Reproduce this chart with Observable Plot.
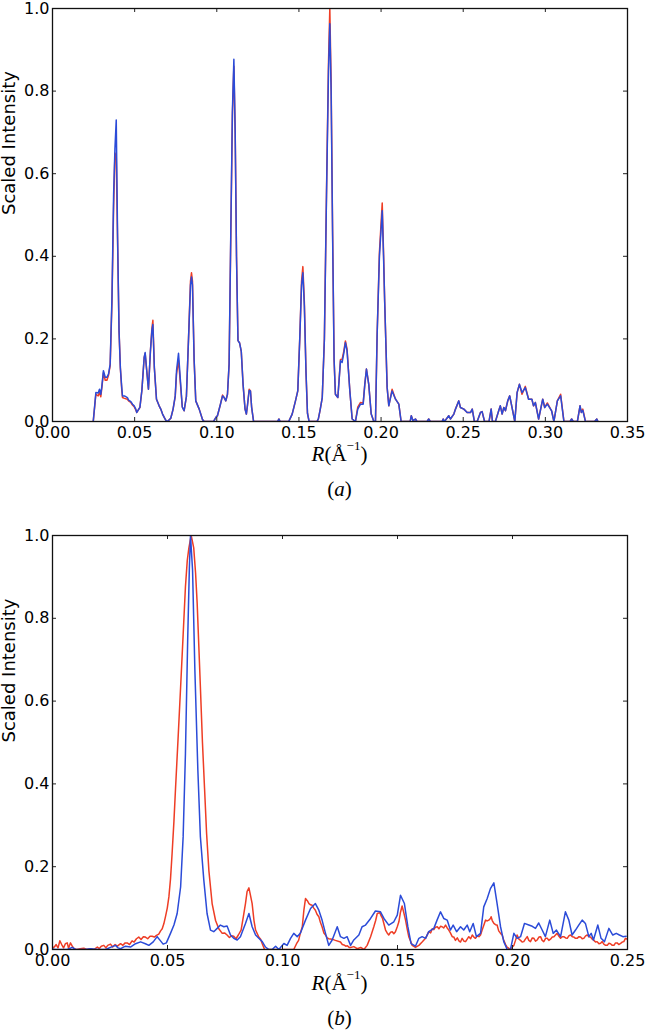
<!DOCTYPE html>
<html><head><meta charset="utf-8">
<script src="https://cdn.jsdelivr.net/npm/d3@7"></script>
<script src="https://cdn.jsdelivr.net/npm/@observablehq/plot@0.6"></script>
<style>
body{margin:0;background:#fff;width:646px;height:1033px;position:relative;overflow:hidden;font-family:"DejaVu Sans",sans-serif}
.panel{position:absolute;left:0}
.xlab{position:absolute;left:52px;width:575px;text-align:center;font-family:"Liberation Serif","DejaVu Serif",serif;font-size:21px;color:#000;line-height:24px}
.xlab i{font-style:italic}
.xlab sup{font-size:13px;position:relative;top:-3px;line-height:0}
</style></head><body>
<div id="pa" class="panel" style="top:0"></div>
<div class="xlab" style="top:442px"><i>R</i>(Å<sup>−1</sup>)</div>
<div class="xlab" style="top:477px">(<i>a</i>)</div>
<div id="pb" class="panel" style="top:527px"></div>
<div class="xlab" style="top:971px"><i>R</i>(Å<sup>−1</sup>)</div>
<div class="xlab" style="top:1006px">(<i>b</i>)</div>
<script>
// ---------- Panel (a) ----------
const aXTicks = [0, 0.05, 0.10, 0.15, 0.20, 0.25, 0.30, 0.35];
const bXTicks = [0, 0.05, 0.10, 0.15, 0.20, 0.25];
const yTicks = [0, 0.2, 0.4, 0.6, 0.8, 1.0];

const aX = [
0.0248,0.0264,0.0278,0.0286,0.0294,0.0300,0.0310,0.0321,0.0331,0.0341,
0.0351,0.0362,0.0372,0.0380,0.0388,0.0396,0.0405,0.0413,0.0421,0.0426,
0.0438,0.0456,0.0463,0.0477,0.0487,0.0497,0.0507,0.0513,0.0532,0.0544,
0.0558,0.0564,0.0572,0.0584,0.0596,0.0605,0.0611,0.0620,0.0633,0.0649,
0.0659,0.0670,0.0680,0.0690,0.0700,0.0720,0.0734,0.0747,0.0755,0.0767,
0.0775,0.0790,0.0801,0.0815,0.0828,0.0840,0.0846,0.0852,0.0862,0.0872,
0.0893,0.0913,0.0923,0.0980,0.0995,0.1004,0.1020,0.1035,0.1045,0.1055,
0.1065,0.1075,0.1085,0.1095,0.1104,0.1112,0.1120,0.1129,0.1139,0.1149,
0.1160,0.1172,0.1180,0.1187,0.1197,0.1205,0.1212,0.1224,0.1370,0.1378,
0.1386,0.1438,0.1459,0.1479,0.1493,0.1505,0.1516,0.1524,0.1533,0.1543,
0.1552,0.1562,0.1610,0.1618,0.1630,0.1642,0.1655,0.1668,0.1680,0.1688,
0.1696,0.1705,0.1714,0.1722,0.1737,0.1753,0.1763,0.1773,0.1783,0.1793,
0.1810,0.1824,0.1844,0.1858,0.1875,0.1891,0.1901,0.1911,0.1925,0.1940,
0.1956,0.1966,0.1976,0.1990,0.2007,0.2015,0.2022,0.2037,0.2047,0.2067,
0.2088,0.2108,0.2122,0.2177,0.2184,0.2194,0.2209,0.2219,0.2280,0.2290,
0.2300,0.2372,0.2378,0.2386,0.2412,0.2422,0.2443,0.2453,0.2473,0.2483,
0.2504,0.2524,0.2545,0.2555,0.2568,0.2585,0.2605,0.2615,0.2630,0.2657,
0.2670,0.2678,0.2696,0.2716,0.2726,0.2737,0.2747,0.2757,0.2771,0.2783,
0.2797,0.2814,0.2828,0.2842,0.2858,0.2878,0.2898,0.2918,0.2928,0.2939,
0.2959,0.2984,0.2996,0.3012,0.3032,0.3038,0.3052,0.3073,0.3093,0.3113,
0.3150,0.3160,0.3170,0.3195,0.3211,0.3219,0.3228,0.3244,0.3300,0.3313,
0.3320];

const aBlue = [
0,0.070,0.069,0.078,0.066,0.084,0.123,0.107,0.107,0.115,
0.139,0.30,0.55,0.66,0.73,0.45,0.22,0.13,0.085,0.062,
0.062,0.058,0.052,0.048,0.042,0.038,0.030,0.022,0.034,0.075,
0.155,0.167,0.130,0.078,0.170,0.220,0.235,0.130,0.054,0.038,
0.030,0.018,0.010,0.003,0,0.008,0.030,0.062,0.123,0.165,
0.120,0.035,0.026,0.060,0.200,0.330,0.350,0.330,0.150,0.050,
0.030,0.005,0,0,0.010,0.014,0.038,0.062,0.058,0.050,
0.066,0.139,0.450,0.750,0.877,0.700,0.400,0.196,0.190,0.170,
0.090,0.030,0.018,0.040,0.075,0.074,0.035,0,0,0.006,
0,0,0.018,0.050,0.074,0.200,0.330,0.360,0.280,0.120,
0.020,0,0,0.006,0.030,0.058,0.200,0.550,0.850,0.963,
0.800,0.450,0.150,0.066,0.058,0.147,0.143,0.165,0.191,0.171,
0.074,0.006,0,0.030,0.042,0.042,0.090,0.127,0.090,0.018,
0,0,0.210,0.400,0.510,0.400,0.290,0.082,0.038,0.074,
0.054,0.042,0,0,0.014,0.002,0.006,0,0,0.006,
0,0,0.006,0,0.014,0.006,0.018,0.030,0.050,0.034,
0.030,0.022,0.022,0.030,0,0,0.022,0.024,0,0,
0.030,0,0,0.026,0.038,0.018,0.034,0.026,0.050,0.062,
0.034,0,0.070,0.090,0.070,0.082,0.054,0.054,0.038,0.046,
0.006,0.054,0.034,0.042,0.030,0.026,0,0.050,0.062,0,
0,0.006,0,0,0.038,0.022,0.027,0,0,0.006,
0];

const aRed = [
0,0.066,0.062,0.070,0.060,0.080,0.118,0.100,0.100,0.112,
0.135,0.29,0.52,0.65,0.64,0.44,0.22,0.13,0.080,0.058,
0.056,0.054,0.050,0.046,0.040,0.036,0.028,0.022,0.034,0.075,
0.155,0.165,0.130,0.078,0.170,0.225,0.245,0.130,0.054,0.038,
0.030,0.018,0.010,0.003,0,0.008,0.030,0.060,0.115,0.148,
0.110,0.035,0.026,0.060,0.200,0.340,0.360,0.340,0.150,0.050,
0.030,0.005,0,0,0.010,0.014,0.038,0.064,0.058,0.050,
0.066,0.139,0.440,0.740,0.860,0.700,0.400,0.196,0.190,0.170,
0.090,0.030,0.018,0.040,0.078,0.074,0.035,0,0,0.006,
0,0,0.018,0.050,0.074,0.200,0.340,0.375,0.290,0.120,
0.020,0,0,0.006,0.030,0.058,0.200,0.560,0.870,1.000,
0.820,0.460,0.150,0.066,0.058,0.150,0.151,0.170,0.195,0.175,
0.074,0.006,0,0.035,0.046,0.044,0.090,0.127,0.090,0.018,
0,0,0.210,0.410,0.529,0.410,0.290,0.082,0.038,0.078,
0.054,0.042,0,0,0.014,0.002,0.006,0,0,0.006,
0,0,0.006,0,0.014,0.006,0.018,0.030,0.050,0.034,
0.030,0.022,0.022,0.030,0,0,0.022,0.024,0,0,
0.030,0,0,0.026,0.038,0.018,0.034,0.026,0.050,0.062,
0.034,0,0.070,0.090,0.066,0.085,0.054,0.054,0.038,0.046,
0.006,0.054,0.034,0.045,0.030,0.026,0,0.050,0.066,0,
0,0.006,0,0,0.038,0.022,0.030,0,0,0.006,
0];

// ---------- Panel (b) ---------- [R, intensity]
const bRed = [
[0.0000,0.005],[0.0008,0.006],[0.0016,0.012],[0.0024,0.004],[0.0032,0.021],[0.0040,0.012],[0.0048,0.004],[0.0056,0.014],
[0.0064,0.016],[0.0070,0.003],[0.0078,0.016],[0.0086,0.008],[0.0094,0.002],[0.0105,0.000],[0.0120,0.002],[0.0136,0.003],
[0.0150,0.000],[0.0165,0.002],[0.0180,0.000],[0.0195,0.006],[0.0203,0.002],[0.0212,0.008],[0.0223,0.010],[0.0232,0.004],
[0.0240,0.010],[0.0252,0.013],[0.0262,0.006],[0.0272,0.012],[0.0282,0.008],[0.0296,0.014],[0.0306,0.010],[0.0316,0.016],
[0.0325,0.016],[0.0335,0.012],[0.0346,0.021],[0.0355,0.018],[0.0365,0.026],[0.0375,0.030],[0.0385,0.024],[0.0395,0.031],
[0.0404,0.030],[0.0414,0.026],[0.0424,0.032],[0.0433,0.032],[0.0443,0.030],[0.0452,0.034],[0.0462,0.037],[0.0470,0.045],
[0.0477,0.050],[0.0484,0.062],[0.0491,0.079],[0.0499,0.100],[0.0506,0.127],[0.0513,0.170],[0.0520,0.232],[0.0528,0.310],
[0.0535,0.390],[0.0546,0.510],[0.0557,0.634],[0.0568,0.760],[0.0578,0.876],[0.0586,0.940],[0.0593,0.970],[0.0603,1.000],
[0.0614,0.970],[0.0622,0.910],[0.0629,0.836],[0.0643,0.634],[0.0652,0.500],[0.0661,0.390],[0.0670,0.280],[0.0680,0.190],
[0.0694,0.111],[0.0709,0.070],[0.0723,0.050],[0.0738,0.039],[0.0748,0.040],[0.0759,0.035],[0.0769,0.029],[0.0779,0.033],
[0.0788,0.032],[0.0798,0.026],[0.0808,0.035],[0.0820,0.047],[0.0830,0.080],[0.0839,0.111],[0.0846,0.140],[0.0854,0.149],
[0.0861,0.130],[0.0868,0.111],[0.0876,0.070],[0.0883,0.047],[0.0897,0.030],[0.0905,0.025],[0.0912,0.014],[0.0922,0.000],
[0.1049,0.000],[0.1061,0.014],[0.1070,0.022],[0.1078,0.040],[0.1086,0.055],[0.1093,0.095],[0.1100,0.123],[0.1108,0.118],
[0.1115,0.111],[0.1122,0.108],[0.1129,0.107],[0.1136,0.100],[0.1143,0.095],[0.1150,0.085],[0.1158,0.079],[0.1165,0.065],
[0.1172,0.055],[0.1180,0.040],[0.1187,0.035],[0.1194,0.028],[0.1201,0.026],[0.1215,0.025],[0.1230,0.022],[0.1252,0.018],
[0.1260,0.012],[0.1267,0.011],[0.1275,0.008],[0.1282,0.009],[0.1290,0.005],[0.1296,0.005],[0.1310,0.007],[0.1325,0.002],
[0.1340,0.005],[0.1354,0.000],[0.1368,0.010],[0.1383,0.031],[0.1397,0.055],[0.1405,0.070],[0.1412,0.087],[0.1423,0.089],
[0.1430,0.080],[0.1435,0.075],[0.1448,0.047],[0.1455,0.040],[0.1462,0.035],[0.1470,0.042],[0.1477,0.043],[0.1484,0.038],
[0.1491,0.043],[0.1499,0.055],[0.1506,0.067],[0.1513,0.090],[0.1520,0.105],[0.1527,0.090],[0.1535,0.071],[0.1542,0.050],
[0.1549,0.031],[0.1557,0.020],[0.1564,0.010],[0.1578,0.005],[0.1593,0.010],[0.1607,0.018],[0.1622,0.027],[0.1636,0.043],
[0.1644,0.040],[0.1651,0.050],[0.1658,0.048],[0.1665,0.054],[0.1673,0.055],[0.1680,0.050],[0.1687,0.056],[0.1694,0.055],
[0.1701,0.052],[0.1709,0.059],[0.1716,0.052],[0.1723,0.047],[0.1730,0.040],[0.1738,0.031],[0.1745,0.030],[0.1752,0.022],
[0.1760,0.028],[0.1767,0.021],[0.1774,0.018],[0.1781,0.027],[0.1789,0.020],[0.1796,0.019],[0.1803,0.025],[0.1810,0.031],
[0.1818,0.026],[0.1825,0.035],[0.1832,0.030],[0.1839,0.027],[0.1847,0.033],[0.1854,0.031],[0.1861,0.035],[0.1868,0.047],
[0.1876,0.060],[0.1883,0.071],[0.1890,0.069],[0.1897,0.071],[0.1904,0.075],[0.1907,0.079],[0.1912,0.070],[0.1919,0.063],
[0.1926,0.060],[0.1933,0.059],[0.1940,0.045],[0.1948,0.039],[0.1955,0.035],[0.1962,0.022],[0.1970,0.012],[0.1977,0.005],
[0.1984,0.003],[0.1991,0.000],[0.1999,0.006],[0.2006,0.010],[0.2013,0.022],[0.2020,0.035],[0.2028,0.025],[0.2035,0.022],
[0.2042,0.018],[0.2049,0.019],[0.2056,0.025],[0.2064,0.031],[0.2071,0.022],[0.2078,0.019],[0.2086,0.028],[0.2093,0.027],
[0.2100,0.020],[0.2107,0.023],[0.2115,0.030],[0.2122,0.031],[0.2129,0.022],[0.2136,0.019],[0.2144,0.027],[0.2151,0.027],
[0.2158,0.022],[0.2165,0.025],[0.2173,0.030],[0.2180,0.031],[0.2187,0.035],[0.2194,0.039],[0.2202,0.032],[0.2209,0.027],
[0.2216,0.031],[0.2223,0.031],[0.2231,0.028],[0.2238,0.027],[0.2245,0.033],[0.2252,0.035],[0.2260,0.031],[0.2267,0.030],
[0.2274,0.027],[0.2281,0.027],[0.2289,0.031],[0.2296,0.030],[0.2303,0.026],[0.2310,0.027],[0.2318,0.033],[0.2325,0.035],
[0.2332,0.031],[0.2339,0.030],[0.2347,0.025],[0.2354,0.022],[0.2361,0.018],[0.2368,0.019],[0.2376,0.014],[0.2383,0.015],
[0.2390,0.019],[0.2397,0.013],[0.2405,0.010],[0.2412,0.010],[0.2419,0.015],[0.2426,0.014],[0.2434,0.010],[0.2441,0.010],
[0.2448,0.016],[0.2455,0.016],[0.2462,0.012],[0.2470,0.015],[0.2477,0.018],[0.2484,0.019],[0.2491,0.027],[0.2498,0.025]];

const bBlue = [
[0.0000,0.002],[0.0010,0.000],[0.0064,0.000],[0.0086,0.005],[0.0100,0.000],[0.0140,0.000],[0.0165,0.002],[0.0200,0.000],
[0.0230,0.000],[0.0252,0.005],[0.0274,0.010],[0.0285,0.004],[0.0296,0.002],[0.0317,0.008],[0.0339,0.006],[0.0361,0.014],
[0.0383,0.0185],[0.0404,0.014],[0.0419,0.010],[0.0438,0.0185],[0.0455,0.031],[0.0468,0.022],[0.0481,0.013],[0.0495,0.016],
[0.0513,0.039],[0.0528,0.059],[0.0542,0.087],[0.0557,0.151],[0.0568,0.272],[0.0578,0.473],[0.0588,0.755],[0.0595,0.920],
[0.0600,1.000],[0.0609,0.916],[0.0619,0.675],[0.0632,0.433],[0.0643,0.272],[0.0658,0.167],[0.0672,0.087],[0.0687,0.047],
[0.0701,0.043],[0.0716,0.051],[0.0730,0.059],[0.0745,0.055],[0.0759,0.057],[0.0774,0.035],[0.0788,0.027],[0.0803,0.023],
[0.0817,0.031],[0.0839,0.063],[0.0854,0.087],[0.0868,0.055],[0.0883,0.035],[0.0897,0.027],[0.0912,0.019],[0.0926,0.006],
[0.0941,0.000],[0.0955,0.000],[0.0970,0.008],[0.0984,0.000],[0.1006,0.0145],[0.1020,0.010],[0.1035,0.027],[0.1049,0.039],
[0.1064,0.031],[0.1078,0.040],[0.1100,0.071],[0.1122,0.099],[0.1143,0.111],[0.1158,0.095],[0.1172,0.071],[0.1187,0.039],
[0.1201,0.010],[0.1216,0.023],[0.1238,0.055],[0.1252,0.031],[0.1267,0.027],[0.1281,0.031],[0.1296,0.010],[0.1310,0.023],
[0.1332,0.035],[0.1346,0.055],[0.1361,0.059],[0.1383,0.075],[0.1404,0.093],[0.1426,0.091],[0.1441,0.075],[0.1462,0.059],
[0.1484,0.067],[0.1499,0.083],[0.1513,0.131],[0.1530,0.111],[0.1545,0.055],[0.1559,0.014],[0.1578,0.008],[0.1593,0.027],
[0.1607,0.031],[0.1622,0.027],[0.1636,0.043],[0.1658,0.051],[0.1672,0.071],[0.1687,0.091],[0.1701,0.075],[0.1716,0.071],
[0.1730,0.047],[0.1742,0.059],[0.1757,0.043],[0.1774,0.055],[0.1788,0.047],[0.1803,0.059],[0.1814,0.043],[0.1829,0.063],
[0.1843,0.031],[0.1861,0.039],[0.1875,0.103],[0.1890,0.123],[0.1904,0.147],[0.1919,0.161],[0.1933,0.111],[0.1948,0.055],
[0.1962,0.019],[0.1977,0.000],[0.1991,0.000],[0.2006,0.039],[0.2020,0.027],[0.2035,0.031],[0.2052,0.063],[0.2071,0.059],
[0.2086,0.056],[0.2100,0.051],[0.2114,0.064],[0.2129,0.047],[0.2143,0.031],[0.2162,0.071],[0.2177,0.039],[0.2191,0.047],
[0.2209,0.031],[0.2230,0.091],[0.2245,0.071],[0.2259,0.035],[0.2274,0.047],[0.2288,0.059],[0.2303,0.071],[0.2317,0.063],
[0.2332,0.031],[0.2342,0.039],[0.2352,0.023],[0.2371,0.059],[0.2385,0.027],[0.2400,0.019],[0.2419,0.051],[0.2436,0.035],
[0.2451,0.039],[0.2465,0.035],[0.2480,0.031],[0.2494,0.032]];

const RED = "#ee3d25", BLUE = "#2b4bd8";

function panel(xDomain, xTicks, redData, blueData, marginBottom) {
  const W = 646, H = 470, mt = 8, mb = marginBottom, ml = 52, mr = 19;
  const ph = H - mt - mb, pw = W - ml - mr;
  return Plot.plot({
    width: W, height: H,
    marginTop: mt, marginBottom: mb, marginLeft: ml, marginRight: mr,
    style: {fontFamily: "'DejaVu Sans', sans-serif", fontSize: "16px", color: "#000", background: "#fff", overflow: "visible"},
    x: {domain: xDomain},
    y: {domain: [0, 1]},
    marks: [
      Plot.line(redData, {x: d => d[0], y: d => d[1], stroke: RED, strokeWidth: 1.5, clip: true}),
      Plot.line(blueData, {x: d => d[0], y: d => d[1], stroke: BLUE, strokeWidth: 1.5, clip: true}),
      Plot.tickX(xTicks, {x: d => d, insetTop: ph - 4, stroke: "#222"}),
      Plot.tickX(xTicks, {x: d => d, insetBottom: ph - 4, stroke: "#222"}),
      Plot.tickY(yTicks, {y: d => d, insetRight: pw - 4, stroke: "#222"}),
      Plot.tickY(yTicks, {y: d => d, insetLeft: pw - 4, stroke: "#222"}),
      Plot.frame({stroke: "#111", strokeWidth: 1.3}),
      Plot.axisX({ticks: xTicks, tickFormat: d3.format(".2f"), tickSize: 0, tickPadding: 5, label: null}),
      Plot.axisY({ticks: yTicks, tickFormat: d3.format(".1f"), tickSize: 0, tickPadding: 3, label: null}),
      Plot.text(["Scaled Intensity"], {text: d => d, frameAnchor: "left", rotate: -90, dx: -43, fontSize: 18})
    ]
  });
}

const aPairs = aX.map((x, i) => [x, aRed[i]]);
const aPairsB = aX.map((x, i) => [x, aBlue[i]]);
document.getElementById("pa").append(panel([0, 0.35], aXTicks, aPairs, aPairsB, 49));
document.getElementById("pb").append(panel([0, 0.25], bXTicks, bRed, bBlue, 48));
</script>
</body></html>
